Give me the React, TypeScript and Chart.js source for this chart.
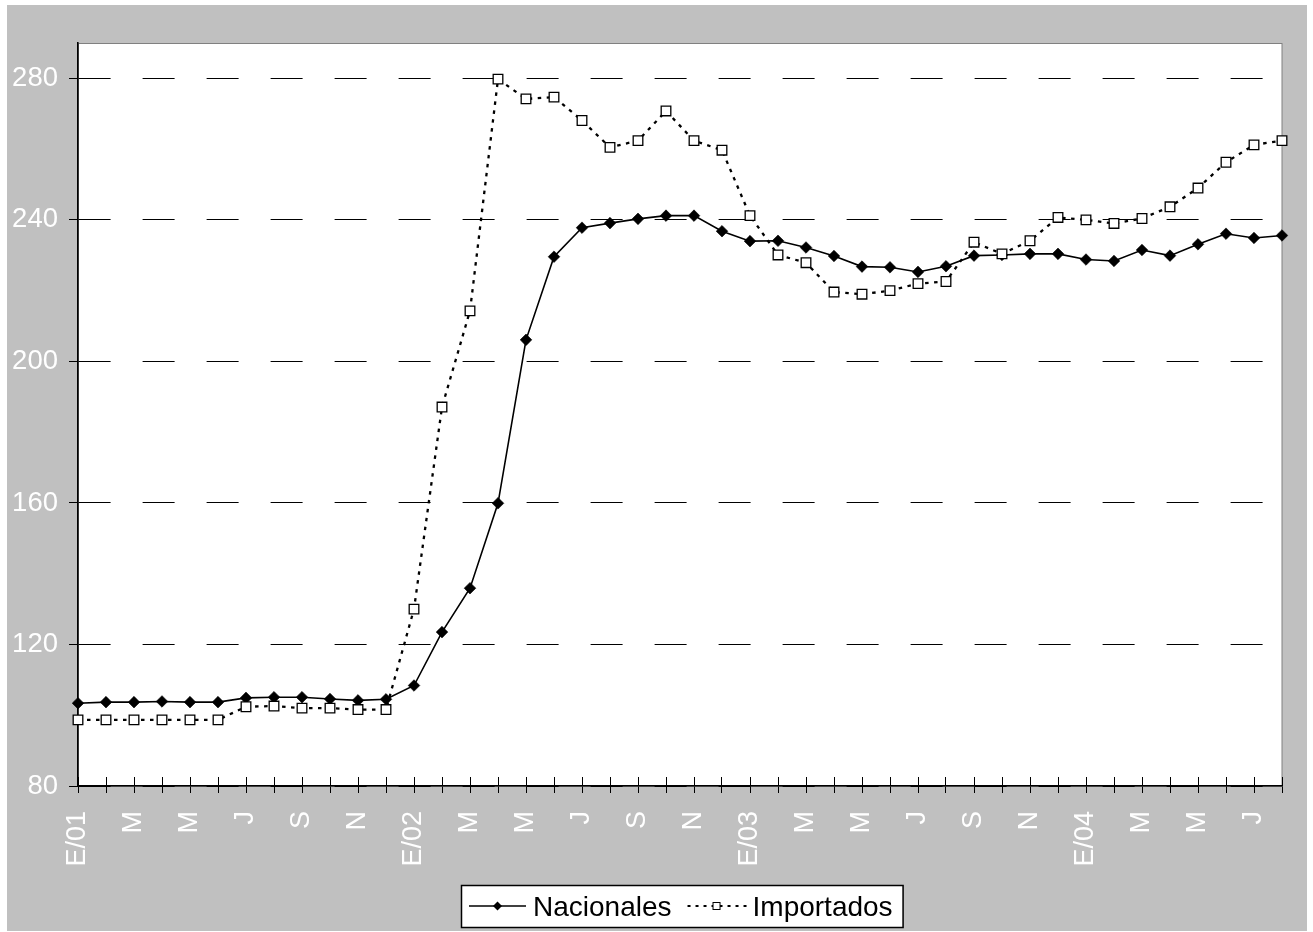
import React, { useEffect, useRef } from 'react';
import { Chart, registerables } from 'chart.js';

Chart.register(...registerables);

// ---- Data ----
const months: string[] = [
  'E/01', 'F', 'M', 'A', 'M', 'J', 'J', 'A', 'S', 'O', 'N', 'D',
  'E/02', 'F', 'M', 'A', 'M', 'J', 'J', 'A', 'S', 'O', 'N', 'D',
  'E/03', 'F', 'M', 'A', 'M', 'J', 'J', 'A', 'S', 'O', 'N', 'D',
  'E/04', 'F', 'M', 'A', 'M', 'J', 'J', 'A',
];

const seriesNames: string[] = ['Nacionales', 'Importados'];

const nacionales: number[] = [
  103.4, 103.7, 103.7, 103.9, 103.7, 103.7, 104.9, 105.1, 105.1, 104.6, 104.2, 104.5,
  108.4, 123.5, 135.9, 159.9, 206.1, 229.6, 237.8, 239.1, 240.3, 241.2, 241.2, 236.8,
  234.0, 234.1, 232.2, 229.8, 226.8, 226.6, 225.3, 226.9, 229.9, 230.1, 230.4, 230.4,
  228.8, 228.4, 231.5, 229.9, 233.1, 236.1, 234.9, 235.6,
];

const importados: number[] = [
  98.7, 98.7, 98.7, 98.7, 98.7, 98.7, 102.4, 102.6, 102.0, 102.0, 101.6, 101.6,
  130.0, 187.1, 214.3, 279.8, 274.2, 274.7, 268.1, 260.5, 262.4, 270.8, 262.4, 259.7,
  241.2, 230.1, 227.9, 219.6, 219.0, 220.0, 222.0, 222.6, 233.7, 230.4, 234.1, 240.7,
  240.0, 239.0, 240.4, 243.7, 249.0, 256.3, 261.2, 262.4,
];

const yTicks: number[] = [80, 120, 160, 200, 240, 280];
const yMin = 80;
const yMax = 290;

const FONT = "'Liberation Sans', Arial, sans-serif";
const W = 1300;
const H = 926;

// ---- Plugins ----
const bgPlugin = {
  id: 'bgPlugin',
  beforeDraw(chart: any) {
    const ctx = chart.ctx;
    const { left, top, right, bottom } = chart.chartArea;
    ctx.save();
    ctx.fillStyle = '#c0c0c0';
    ctx.fillRect(0, 0, chart.width, chart.height);
    ctx.fillStyle = '#ffffff';
    ctx.fillRect(left, top, right - left, bottom - top);
    ctx.strokeStyle = '#808080';
    ctx.lineWidth = 1;
    ctx.strokeRect(Math.round(left) + 0.5, Math.round(top) + 0.5, Math.round(right - left) - 0.5, Math.round(bottom - top));
    ctx.restore();
  },
};

const innerTicksPlugin = {
  id: 'innerTicks',
  beforeDatasetsDraw(chart: any) {
    const ctx = chart.ctx;
    const xs = chart.scales.x;
    const bottom = chart.chartArea.bottom;
    ctx.save();
    ctx.strokeStyle = '#000';
    ctx.lineWidth = 1;
    ctx.beginPath();
    xs.ticks.forEach((_t: any, i: number) => {
      const x = Math.round(xs.getPixelForTick(i) - 0.5) + 0.5;
      ctx.moveTo(x, bottom - 9);
      ctx.lineTo(x, bottom);
    });
    ctx.stroke();
    ctx.restore();
  },
};

function drawDiamond(ctx: CanvasRenderingContext2D, x: number, y: number, r: number) {
  ctx.beginPath();
  ctx.moveTo(x, y - r);
  ctx.lineTo(x + r, y);
  ctx.lineTo(x, y + r);
  ctx.lineTo(x - r, y);
  ctx.closePath();
  ctx.fillStyle = '#000';
  ctx.fill();
}

const legendPlugin = {
  id: 'excelLegend',
  afterDraw(chart: any) {
    const ctx: CanvasRenderingContext2D = chart.ctx;
    const ds = chart.data.datasets;
    ctx.save();
    ctx.font = `28px ${FONT}`;
    const w1 = ctx.measureText(ds[0].label).width;
    const w2 = ctx.measureText(ds[1].label).width;

    const boxLeft = 454;
    const boxTop = 880;
    const boxH = 42;
    const s1 = boxLeft + 8;
    const t1 = s1 + 64;
    const s2 = t1 + w1 + 16;
    const t2 = s2 + 65;
    const boxRight = t2 + w2 + 10;
    const cy = boxTop + boxH / 2;

    ctx.fillStyle = '#fff';
    ctx.fillRect(boxLeft, boxTop, boxRight - boxLeft, boxH);
    ctx.strokeStyle = '#000';
    ctx.lineWidth = 1.5;
    ctx.strokeRect(boxLeft + 0.5, boxTop + 0.5, boxRight - boxLeft, boxH);

    // sample 1: solid line with diamond
    ctx.beginPath();
    ctx.moveTo(s1, cy);
    ctx.lineTo(s1 + 57, cy);
    ctx.lineWidth = 1.5;
    ctx.strokeStyle = '#000';
    ctx.stroke();
    drawDiamond(ctx, s1 + 28.5, cy, 4.5);

    // sample 2: dotted line with square
    ctx.beginPath();
    ctx.setLineDash([3, 5]);
    ctx.moveTo(s2, cy);
    ctx.lineTo(s2 + 63, cy);
    ctx.lineWidth = 1.8;
    ctx.stroke();
    ctx.setLineDash([]);
    const sx = s2 + 29;
    ctx.fillStyle = '#fff';
    ctx.fillRect(sx - 3.5, cy - 3.5, 7, 7);
    ctx.lineWidth = 1;
    ctx.strokeRect(sx - 3.5, cy - 3.5, 7, 7);

    ctx.fillStyle = '#000';
    ctx.textBaseline = 'alphabetic';
    ctx.textAlign = 'left';
    ctx.fillText(ds[0].label, t1, cy + 10);
    ctx.fillText(ds[1].label, t2, cy + 10);
    ctx.restore();
  },
};

export default function App() {
  const ref = useRef<HTMLCanvasElement>(null);

  useEffect(() => {
    if (!ref.current) return;
    const chart = new Chart(ref.current, {
      type: 'line',
      data: {
        labels: months,
        datasets: [
          {
            label: seriesNames[0],
            data: nacionales,
            borderColor: '#000',
            borderWidth: 1.6,
            tension: 0,
            pointStyle: 'rectRot',
            pointRadius: 5.8,
            pointBackgroundColor: '#000',
            pointBorderColor: '#000',
            pointBorderWidth: 0.6,
            order: 1,
          },
          {
            label: seriesNames[1],
            data: importados,
            borderColor: '#000',
            borderWidth: 2.3,
            borderDash: [3.5, 5.5],
            tension: 0,
            pointStyle: 'rect',
            pointRadius: 6.8,
            pointBackgroundColor: '#fff',
            pointBorderColor: '#000',
            pointBorderWidth: 1.3,
            order: 0,
          },
        ],
      },
      options: {
        responsive: false,
        animation: false,
        devicePixelRatio: 1,
        layout: { padding: { top: 38, right: 25, left: 0, bottom: 0 } },
        plugins: {
          legend: { display: false },
          tooltip: { enabled: false },
        },
        scales: {
          x: {
            type: 'category',
            offset: false,
            grid: {
              display: true,
              drawOnChartArea: false,
              drawTicks: true,
              tickLength: 7,
              tickColor: '#000',
              tickWidth: 1,
            },
            border: { display: true, color: '#000', width: 1.6 },
            ticks: {
              autoSkip: false,
              maxRotation: 90,
              minRotation: 90,
              color: '#fff',
              font: { family: FONT, size: 27 },
              padding: 18,
              callback: (_v: any, i: number) => (i % 2 === 0 ? months[i] : ''),
            },
            afterFit: (s: any) => {
              s.height = 145;
              s.paddingLeft = 0;
              s.paddingRight = 0;
            },
          },
          y: {
            min: yMin,
            max: yMax,
            afterBuildTicks: (s: any) => {
              s.ticks = yTicks.map((v) => ({ value: v }));
            },
            grid: {
              color: '#000',
              lineWidth: 1,
              drawTicks: true,
              tickLength: 9,
              tickColor: '#000',
              tickWidth: 1,
              tickBorderDash: [],
            },
            border: { display: true, color: '#000', width: 1.6, dash: [32, 32] },
            ticks: {
              color: '#fff',
              font: { family: FONT, size: 27.5 },
              padding: 11,
            },
            afterFit: (s: any) => {
              s.width = 71;
              s.paddingTop = 0;
              s.paddingBottom = 0;
            },
          },
        },
      } as any,
      plugins: [bgPlugin, innerTicksPlugin, legendPlugin],
    });
    return () => chart.destroy();
  }, []);

  return (
    <div style={{ position: 'absolute', left: 7, top: 5, width: W, height: H }}>
      <canvas ref={ref} width={W} height={H} style={{ display: 'block' }} />
    </div>
  );
}
